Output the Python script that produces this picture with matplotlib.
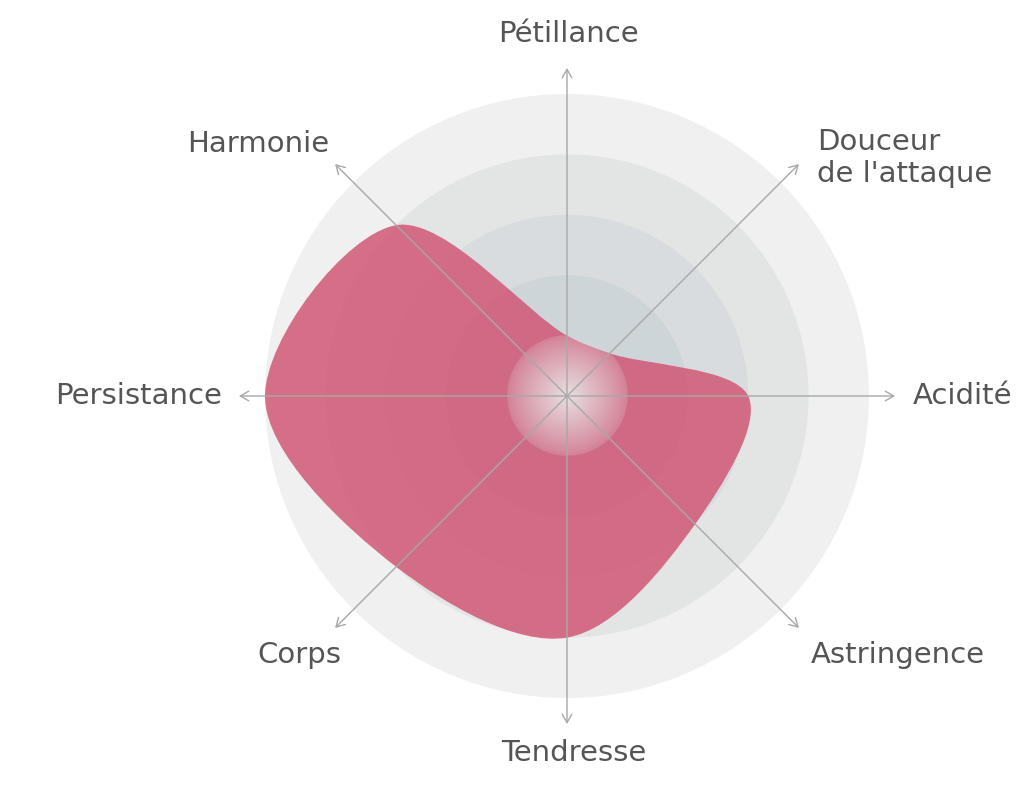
import numpy as np
import matplotlib.pyplot as plt
from matplotlib.path import Path
from matplotlib.patches import PathPatch, Circle

labels = ['Pétillance', "Douceur\nde l'attaque", 'Acidité', 'Astringence',
          'Tendresse', 'Corps', 'Persistance', 'Harmonie']
values = [1, 1, 3, 3, 4, 4, 5, 4]
levels = [1, 2, 3, 4, 5]

# pixel-unit axes: centre of the radar at (567, 396) from top-left
W, H = 1024, 789
cx, cy = 567, 396
unit = 60.4

fig = plt.figure(figsize=(W / 100, H / 100), dpi=100)
ax = fig.add_axes([0, 0, 1, 1])

ring_colors = ['#c9d1d4', '#cdd5d8', '#d8dcdf', '#e3e5e5', '#f0f0f0']
for lv, col in sorted(zip(levels, ring_colors), reverse=True):
    ax.add_patch(Circle((0, 0), lv * unit, color=col, lw=0, zorder=1))

# angles clockwise from top
n = len(values)
ang = np.pi / 2 - np.arange(n) * 2 * np.pi / n
pts = np.column_stack([np.cos(ang), np.sin(ang)]) * (np.array(values) * unit)[:, None]


def catmull_rom_closed(p, alpha=0.5):
    # centripetal Catmull-Rom (same maths as d3.curveCatmullRomClosed)
    m = len(p)
    verts, codes = [p[0]], [Path.MOVETO]
    for i in range(m):
        p0, p1, p2, p3 = p[i - 1], p[i], p[(i + 1) % m], p[(i + 2) % m]
        d01 = np.linalg.norm(p1 - p0)
        d12 = np.linalg.norm(p2 - p1)
        d23 = np.linalg.norm(p3 - p2)
        l01a, l12a, l23a = d01 ** alpha, d12 ** alpha, d23 ** alpha
        l01b, l12b, l23b = d01 ** (2 * alpha), d12 ** (2 * alpha), d23 ** (2 * alpha)
        a = 2 * l01b + 3 * l01a * l12a + l12b
        nn = 3 * l01a * (l01a + l12a)
        c1 = (p1 * a - p0 * l12b + p2 * l01b) / nn
        b = 2 * l23b + 3 * l23a * l12a + l12b
        mm = 3 * l23a * (l23a + l12a)
        c2 = (p2 * b + p1 * l23b - p3 * l12b) / mm
        verts += [c1, c2, p2]
        codes += [Path.CURVE4] * 3
    return Path(verts, codes)


ax.add_patch(PathPatch(catmull_rom_closed(pts), facecolor='#d15875', alpha=0.85,
                       lw=0, zorder=2))

# soft light glow in the middle
r0 = unit
g = np.linspace(-r0, r0, 300)
gx, gy = np.meshgrid(g, g)
rr = np.hypot(gx, gy) / r0
img = np.ones((300, 300, 4))
img[..., :3] = 0.91
img[..., 3] = np.where(rr <= 1, 0.18 + 0.75 * (1 - rr) ** 0.9, 0)
ax.imshow(img, extent=(-r0, r0, -r0, r0), zorder=3, interpolation='bilinear')

ax.set_xlim(-cx, W - cx)
ax.set_ylim(-(H - cy), cy)
ax.set_aspect('equal')
ax.axis('off')

# axes with arrows
alen = 328
for a in ang:
    end = (alen * np.cos(a), alen * np.sin(a))
    ax.annotate('', xy=end, xytext=(0, 0),
                arrowprops=dict(arrowstyle='->,head_length=0.6,head_width=0.35',
                                color='#a8a8a8', lw=1, shrinkA=0, shrinkB=0),
                zorder=4)

txt = dict(fontsize=21, color='#555555', family='DejaVu Sans')
pos = [(568 - cx, cy - 34, 'center'),
       (817 - cx, cy - 158, 'left'),
       (913 - cx, 0, 'left'),
       (811 - cx, cy - 655, 'left'),
       (574 - cx, cy - 753, 'center'),
       (341 - cx, cy - 655, 'right'),
       (222 - cx, 0, 'right'),
       (329 - cx, cy - 144, 'right')]
for lab, (x, y, ha) in zip(labels, pos):
    ax.text(x, y, lab, ha=ha, va='center', linespacing=1.2, **txt)

fig.savefig('out.png', dpi=100, facecolor='white')
